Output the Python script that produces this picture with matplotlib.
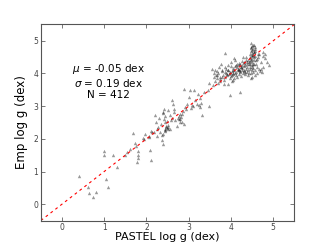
import matplotlib
matplotlib.use('Agg')
import matplotlib.pyplot as plt

pastel_low = [0.41, 0.61, 0.65, 0.74, 0.80, 1.00, 1.00, 1.04, 1.10, 1.21, 1.30, 1.50]
emp_low = [0.85, 0.52, 0.34, 0.22, 0.37, 1.63, 1.49, 0.78, 0.52, 1.49, 1.13, 1.49]

pastel_mid = [1.68, 1.73, 1.75, 1.77, 1.80, 1.80, 1.81, 1.91, 1.97, 2.09, 2.10, 2.07, 2.18, 2.21,
              2.23, 2.25, 2.28, 2.31, 2.36, 2.39, 2.40, 2.37, 2.40, 2.42, 2.44, 2.47, 2.45, 2.48,
              2.50, 2.52, 2.46, 2.43, 2.50, 2.55, 2.52, 2.56, 2.58, 2.60, 2.62, 2.64, 2.68, 2.72,
              2.76, 2.80, 2.82, 2.84, 2.86, 2.88, 2.89, 2.92, 2.96, 3.00, 3.02, 3.07, 3.13, 3.19,
              3.21, 3.25, 3.27, 3.26, 3.31, 3.37, 3.49, 3.57, 3.47, 3.56, 2.78, 2.80, 2.83, 2.79,
              2.74, 2.41, 2.45, 2.35, 2.25, 2.14, 2.05, 1.95, 2.10, 2.30, 2.60, 2.66, 2.94, 3.05,
              3.15, 3.10, 3.45, 3.30, 2.48, 2.38, 2.44, 1.55, 1.62]
emp_mid = [2.18, 1.87, 1.77, 1.29, 1.49, 1.63, 1.42, 2.03, 2.16, 1.67, 1.36, 2.06, 2.21, 2.72,
           2.52, 2.08, 2.36, 2.21, 2.11, 1.85, 2.16, 1.95, 2.82, 2.92, 2.31, 2.36, 2.28, 2.33,
           2.30, 2.35, 2.40, 2.25, 2.42, 2.30, 2.87, 2.72, 2.57, 3.20, 3.08, 2.82, 2.57, 2.38,
           2.62, 2.77, 2.67, 2.52, 2.84, 2.46, 3.54, 2.98, 3.08, 3.28, 3.49, 3.03, 3.51, 3.08,
           3.38, 3.03, 2.96, 3.26, 2.72, 3.44, 3.00, 3.64, 3.71, 4.15, 2.70, 2.60, 2.75, 2.50,
           2.65, 2.60, 2.50, 2.45, 2.30, 2.20, 2.10, 1.98, 2.25, 2.65, 2.65, 2.90, 2.90, 2.95,
           3.20, 3.00, 3.50, 3.10, 2.55, 2.80, 2.70, 1.60, 1.70]

pastel_high = [3.59, 3.60, 3.63, 3.67, 3.68, 3.71, 3.73, 3.75, 3.76, 3.79, 3.81, 3.83, 3.84, 3.87,
               3.87, 3.89, 3.91, 3.92, 3.94, 3.97, 3.98, 4.00, 4.02, 4.04, 4.06, 4.08, 4.10, 4.13,
               4.14, 4.16, 4.18, 4.21, 4.22, 4.24, 4.26, 4.28, 4.30, 4.32, 4.34, 4.36, 4.38, 4.40,
               4.42, 4.44, 4.46, 4.47, 4.48, 4.50, 4.50, 4.51, 4.51, 4.52, 4.52, 4.54, 4.54, 4.55,
               4.56, 4.58, 4.58, 4.60, 4.62, 4.63, 4.66, 4.68, 4.74, 4.76, 4.77, 4.81, 4.85, 4.89,
               4.62,
               3.95, 3.98, 4.02, 4.05, 4.08, 4.12, 4.15, 4.18, 4.20, 4.22, 4.25, 4.27, 4.30, 4.32,
               4.35, 4.38, 4.40, 4.42, 4.44, 4.46, 4.48, 4.49, 4.50, 4.51, 4.52, 4.53, 4.47, 4.50,
               4.55, 4.57, 4.45, 4.46, 4.48, 4.50, 4.53, 4.55, 4.60, 4.62, 4.64, 4.66, 4.20, 4.15,
               4.10, 4.05, 4.00, 3.90, 3.85, 3.80, 3.75, 3.70, 3.65, 3.62, 3.78, 3.88, 3.92, 3.97,
               4.03, 4.08, 4.12, 4.18, 4.24, 4.28, 4.33, 4.37, 4.41, 4.43, 4.39, 4.36, 4.30, 4.26,
               4.22, 4.58, 4.56, 4.54, 4.48, 4.52, 4.49, 4.51, 4.47, 4.70, 4.72, 4.75, 4.80, 4.10,
               4.00, 3.85, 3.70, 3.66, 3.93, 4.06, 4.16, 4.23, 4.34, 4.44]
emp_high = [4.00, 3.88, 3.76, 4.08, 3.94, 4.20, 3.90, 3.76, 4.30, 4.08, 3.95, 3.81, 3.69, 4.05,
            4.64, 4.15, 3.98, 3.69, 4.10, 3.33, 4.02, 4.22, 3.95, 3.81, 4.10, 4.46, 4.00, 4.25,
            3.90, 4.15, 4.33, 4.08, 3.44, 4.20, 4.25, 4.49, 4.12, 4.36, 4.05, 4.51, 4.20, 4.41,
            4.28, 4.61, 4.46, 4.82, 4.92, 4.71, 4.56, 4.36, 4.20, 4.05, 4.87, 4.66, 4.49, 4.30,
            4.10, 4.76, 3.95, 4.40, 4.20, 4.61, 4.15, 4.08, 4.05, 4.66, 4.53, 4.46, 4.36, 4.25,
            4.00,
            3.98, 4.05, 4.08, 3.97, 4.12, 4.05, 4.20, 4.10, 4.15, 4.05, 4.12, 4.18, 4.08, 4.22,
            4.15, 4.28, 4.10, 4.35, 4.20, 4.30, 4.40, 4.55, 4.45, 4.62, 4.30, 4.75, 4.68, 4.85,
            4.40, 4.55, 4.50, 4.15, 4.00, 3.90, 4.18, 4.65, 4.30, 4.45, 4.50, 4.60, 4.25, 4.30,
            4.22, 4.18, 3.92, 3.95, 3.88, 3.90, 3.82, 4.00, 3.95, 4.10, 4.12, 4.02, 4.25, 3.85,
            3.78, 3.85, 3.95, 3.98, 3.92, 4.02, 3.98, 4.05, 3.95, 4.02, 4.35, 4.40, 4.32, 4.38,
            4.28, 4.70, 4.82, 4.88, 4.78, 4.58, 4.25, 4.10, 3.85, 4.35, 4.15, 4.20, 4.60, 4.40,
            4.35, 4.20, 3.70, 3.85, 4.12, 4.02, 4.12, 4.20, 4.25, 4.38]

pastel = pastel_low + pastel_mid + pastel_high
emp = emp_low + emp_mid + emp_high

lims = [-0.5, 5.5]
ticks = [0, 1, 2, 3, 4, 5]

fig = plt.figure(figsize=(3.27, 2.45), dpi=100)
ax = fig.add_axes([0.125, 0.1, 0.775, 0.8])

ax.scatter(pastel, emp, marker='^', s=6, color='k', alpha=0.4, linewidths=0)
ax.plot(lims, lims, color='r', ls='--', lw=0.8, dashes=(2.5, 3))

ax.set_xlim(lims)
ax.set_ylim(lims)
ax.set_xticks(ticks)
ax.set_yticks(ticks)
ax.tick_params(direction='in', top=True, right=True, labelsize=5.5,
               length=3, width=0.5, colors='#444444', pad=2)
for s in ax.spines.values():
    s.set_color('#555555')
    s.set_linewidth(0.8)

ax.text(1.1, 3.78, '$\\mu$ = -0.05 dex\n$\\sigma$ = 0.19 dex\nN = 412',
        ha='center', va='center', fontsize=7.5, linespacing=1.1)

ax.set_xlabel('PASTEL log g (dex)', fontsize=8, labelpad=0)
ax.set_ylabel('Emp log g (dex)', fontsize=8.5, labelpad=4)

fig.savefig('out.png', dpi=100)
